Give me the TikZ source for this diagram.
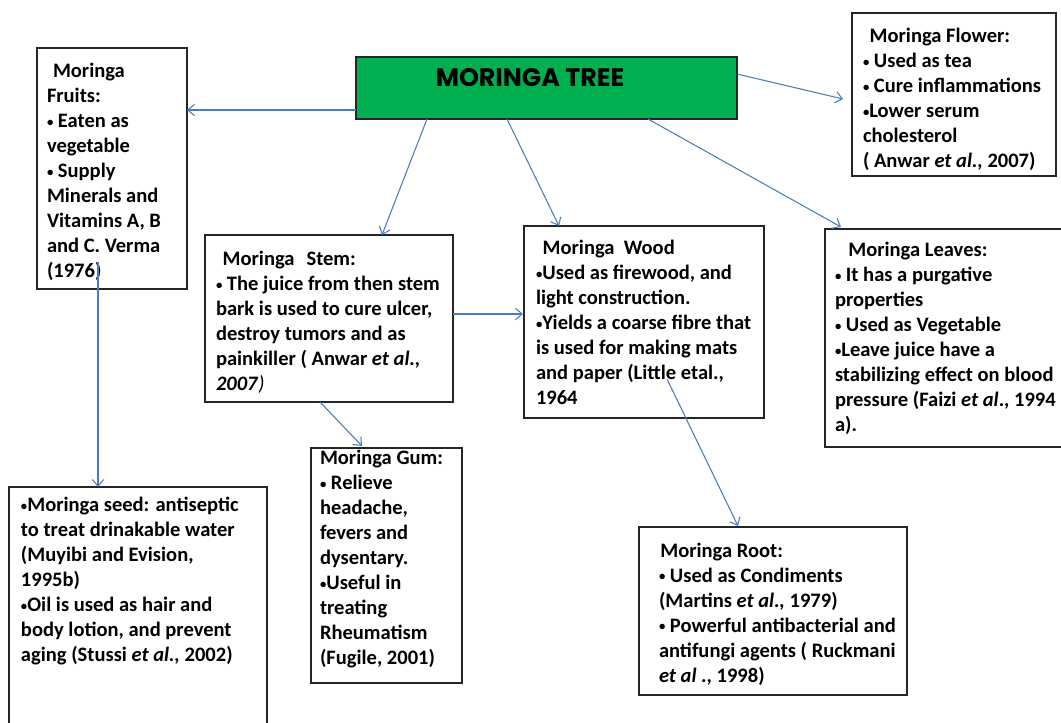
\documentclass[tikz,border=0pt]{standalone}
\usepackage{fontspec}
\setmainfont{Carlito}
\newfontfamily\titlefont{Poppins}
\usetikzlibrary{arrows.meta,calc}
\definecolor{treegreen}{HTML}{00B050}
\definecolor{linkblue}{HTML}{4A7EBB}
\definecolor{boxline}{HTML}{262626}
\newcommand{\bt}[1]{\parbox[t]{400pt}{\fontsize{15.4}{18.75}\selectfont\bfseries\raggedright #1}}
\newcommand{\bul}{\raisebox{0.18ex}{\scalebox{0.62}{•}}}
\begin{document}
\begin{tikzpicture}[x=0.75pt,y=-0.75pt,
  box/.style={draw=boxline,line width=1.1pt,anchor=north west,inner sep=0pt,outer sep=0pt},
  txt/.style={anchor=base west,inner sep=0pt,outer sep=0pt,text=black},
  conn/.style={draw=linkblue,line width=0.8pt,-{Straight Barb[length=5pt,width=8.5pt,line width=0.8pt]}}]
\useasboundingbox (0,0) rectangle (1061,723);
% boxes
\node[box,fill=treegreen,minimum width=285.75pt,minimum height=46.5pt] (tree) at (356,57) {};
\node[box,minimum width=112.5pt,minimum height=180.75pt] (fruits) at (37,48) {};
\node[box,minimum width=153pt,minimum height=122.25pt] (flower) at (852,13) {};
\node[box,minimum width=186pt,minimum height=125.25pt] (stem) at (205,235) {};
\node[box,minimum width=180pt,minimum height=144pt] (wood) at (524,226) {};
\node[box,minimum width=195pt,minimum height=163.5pt] (leaves) at (825,229) {};
\node[box,minimum width=193.5pt,minimum height=190pt] (seed) at (9,487) {};
\node[box,minimum width=113.25pt,minimum height=176.25pt] (gum) at (311,448) {};
\node[box,minimum width=201pt,minimum height=126pt] (root) at (639,527) {};
% texts
\node[txt,anchor=base] (treeT) at (530,87) {\titlefont\fontsize{19}{20}\selectfont\bfseries MORINGA TREE};
\node[txt] (fruitsT) at (47,78) {\bt{\hspace{4.5pt}Moringa\\Fruits:\\\bul{} Eaten as\\vegetable\\\bul{} Supply\\Minerals and\\Vitamins A, B\\and C. Verma\\(1976)}};
\node[txt] (flowerT) at (863,43) {\bt{\hspace{5pt}Moringa Flower:\\\bul{} Used as tea\\\bul{} Cure inflammations\\\bul Lower serum\\cholesterol\\( Anwar \textit{et al.,} 2007)}};
\node[txt] (stemT) at (216,266) {\bt{\hspace{5pt}Moringa\hspace{9pt}Stem:\\\bul{} The juice from then stem\\bark is used to cure ulcer,\\destroy tumors and as\\painkiller ( Anwar \textit{et al.,}\\\textit{2007}{\mdseries\itshape )}}};
\node[txt] (woodT) at (536,255) {\bt{\hspace{5pt}Moringa\hspace{7pt}Wood\\\bul Used as firewood, and\\light construction.\\\bul Yields a coarse fibre that\\is used for making mats\\and paper (Little etal.,\\1964}};
\node[txt] (leavesT) at (835,257) {\bt{\hspace{10pt}Moringa Leaves:\\\bul{} It has a purgative\\properties\\\bul{} Used as Vegetable\\\bul Leave juice have a\\stabilizing effect on blood\\pressure (Faizi \textit{et al}., 1994\\a).}};
\node[txt] (seedT) at (21,512) {\bt{\bul Moringa seed: antiseptic\\to treat drinakable water\\(Muyibi and Evision,\\1995b)\\\bul Oil is used as hair and\\body lotion, and prevent\\aging (Stussi \textit{et al.,} 2002)}};
\node[txt] (gumT) at (320,465) {\bt{Moringa Gum:\\\bul{} Relieve\\headache,\\fevers and\\dysentary.\\\bul Useful in\\treating\\Rheumatism\\(Fugile, 2001)}};
\node[txt] (rootT) at (659,557) {\bt{\hspace{1pt}Moringa Root:\\\bul{} Used as Condiments\\(Martins \textit{et al.,} 1979)\\\bul{} Powerful antibacterial and\\antifungi agents ( Ruckmani\\\textit{et al} ., 1998)}};
% connectors
\draw[conn] ($(tree.west)+(0,22)$) -- ($(fruits.east)+(0,-58.5)$);
\draw[conn] ($(tree.south west)+(71,0)$) -- ($(stem.north west)+(177,0)$);
\draw[conn] ($(tree.south west)+(151,0)$) -- ($(wood.north west)+(35,0)$);
\draw[conn] ($(tree.north east)+(0,17)$) -- ($(flower.west)+(-9,4.5)$);
\draw[conn] ($(tree.south west)+(292,0)$) -- ($(leaves.north west)+(16,-2)$);
\draw[conn] ($(fruits.south west)+(61,-27)$) -- ($(seed.north west)+(89,0)$);
\draw[conn] ($(stem.east)+(0,-4.5)$) -- ($(wood.west)+(-1,-8)$);
\draw[conn] ($(stem.south west)+(115,0)$) -- ($(gum.north west)+(51,-2)$);
\draw[conn] ($(wood.south west)+(143,-39)$) -- ($(root.north west)+(99,-1)$);
\end{tikzpicture}
\end{document}
